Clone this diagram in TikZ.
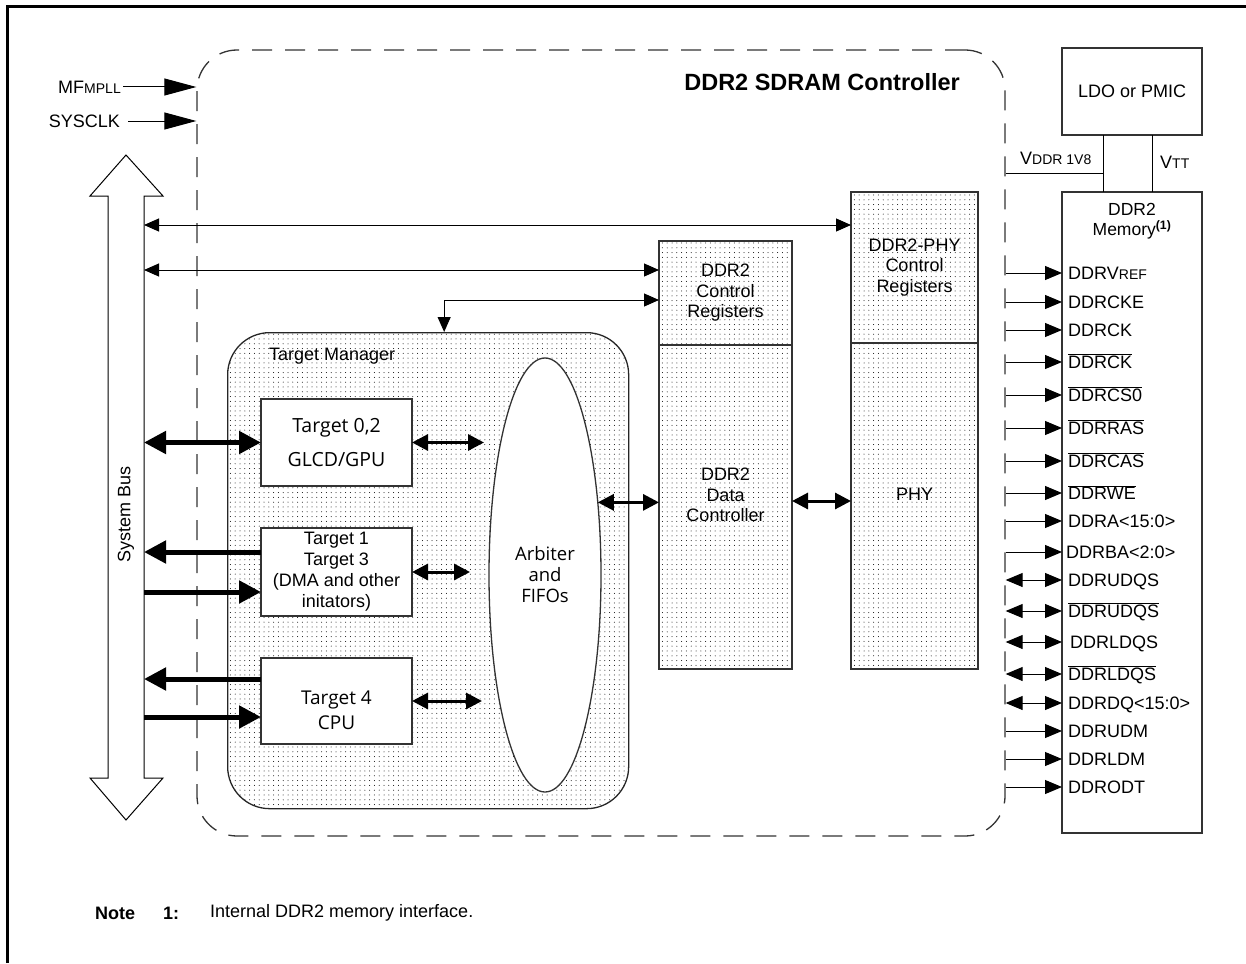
\documentclass[tikz,border=0pt]{standalone}
\usepackage{fontspec}
\setmainfont{Liberation Sans}
\newfontfamily\uifont{Open Sans}
\usepackage{tikz}
\usetikzlibrary{shapes.geometric, arrows.meta, positioning, patterns}

% sparse dot shading
\pgfdeclarepatternformonly{fine dots}{\pgfqpoint{-1pt}{-1pt}}{\pgfqpoint{1pt}{1pt}}{\pgfqpoint{4.8pt}{4.8pt}}%
  {\pgfpathcircle{\pgfqpoint{0pt}{0pt}}{0.5pt}\pgfusepath{fill}}

\newcommand{\sm}[1]{{\fontsize{14}{14}\selectfont #1}}
\newcommand{\ovl}[1]{$\overline{\hbox{#1}}$}

\begin{document}
\begin{tikzpicture}[
    x=1pt, y=-1pt,
    font=\fontsize{18}{20.5}\selectfont,
    txt/.style={inner sep=0pt},
    box/.style={rectangle, draw=black!80, line width=1.3pt, fill=white, inner sep=0pt, outer sep=0pt, align=center},
    dotbox/.style={rectangle, draw=black!80, line width=1.3pt, pattern=fine dots, inner sep=0pt, outer sep=0pt, align=center, minimum width=133pt},
    ctrl/.style={rectangle, rounded corners=40pt, draw=black!80, line width=1.3pt, dash pattern=on 20pt off 13pt},
    tmgr/.style={rectangle, rounded corners=42pt, draw=black!85, line width=1.3pt, pattern=fine dots},
    pin/.style={txt, anchor=west, text height=15pt, text depth=2pt},
    sig/.style={line width=1pt, -{Triangle[length=17pt,width=14pt]}},
    bisig/.style={line width=1pt, {Triangle[length=17pt,width=14pt]}-{Triangle[length=17pt,width=14pt]}},
    clk/.style={line width=1pt, -{Triangle[length=32pt,width=17pt]}},
    reg/.style={line width=1pt, {Triangle[length=15pt,width=13pt]}-{Triangle[length=15pt,width=13pt]}},
    fat/.style={line width=5pt, -{Triangle[length=22pt,width=22pt]}},
    fatboth/.style={line width=5pt, {Triangle[length=22pt,width=22pt]}-{Triangle[length=22pt,width=22pt]}},
    link/.style={line width=3pt, {Triangle[length=16pt,width=16pt]}-{Triangle[length=16pt,width=16pt]}},
    wire/.style={line width=1pt}
]
\useasboundingbox (0,0) rectangle (1246,963);
\draw[line width=3pt] (7,963) -- (7,7) -- (1246,7);

% Controller outline
\node[ctrl, minimum width=808pt, minimum height=786pt] (ctrl) at (601,443) {};
\node[txt, anchor=east, font=\fontsize{23.5}{26}\selectfont\bfseries] (title) at (960,82) {DDR2 SDRAM Controller};

% Clocks
\node[txt, anchor=east] (mf) at (121,87) {MF\sm{MPLL}};
\node[txt, anchor=east] (sysclk) at (120,121) {SYSCLK};
\draw[clk] ([xshift=2pt]mf.east) -- (ctrl.west |- mf.east);
\draw[clk] ([xshift=8pt]sysclk.east) -- (ctrl.west |- sysclk.east);

% System bus
\draw[line width=1pt] (126,155) -- (163,196) -- (144,196) -- (144,778) -- (163,778) -- (126,820) -- (90,778) -- (108,778) -- (108,196) -- (90,196) -- cycle;
\node[txt, rotate=90] (bus) at (126,514) {System Bus};
\coordinate (busr) at (144,490);

% Registers, data controller, PHY
\node[dotbox, anchor=north west, minimum height=104pt] (ctrlreg) at (659,241) {DDR2\\Control\\Registers};
\node[dotbox, below=0pt of ctrlreg, minimum height=324pt] (datactl) {DDR2\\Data\\Controller\\[4pt]};
\node[dotbox, anchor=north west, minimum width=127pt, minimum height=151pt] (phyreg) at (851,192) {DDR2-PHY\\Control\\Registers};
\node[dotbox, below=0pt of phyreg, minimum width=127pt, minimum height=326pt] (phy) {PHY\\[2pt]};

% Target manager
\node[tmgr, anchor=north west, minimum width=401pt, minimum height=476pt] (tmgr) at (227,332) {};
\node[txt, anchor=west] (tmlbl) at (269,356) {Target Manager};
\node[box, anchor=north west, minimum width=151pt, minimum height=87pt, font=\uifont\fontsize{19.5}{34}\selectfont] (t0) at (261,399) {Target 0,2\\GLCD/GPU};
\node[box, below=42pt of t0, minimum width=151pt, minimum height=88pt, font=\fontsize{18}{21}\selectfont] (t1) {Target 1\\Target 3\\(DMA and other\\initators)};
\node[box, below=42pt of t1, minimum width=151pt, minimum height=86pt, font=\uifont\fontsize{19}{25}\selectfont] (t4) {\rule{0pt}{32pt}Target 4\\CPU};
\node[box, ellipse, minimum width=112pt, minimum height=434pt, font=\uifont\fontsize{18.5}{21}\selectfont] (arb) at (545,575) {Arbiter\\and\\FIFOs};

% Bus connections
\coordinate (phytap) at ([yshift=-33pt]phyreg.north west);
\coordinate (regtap) at ([yshift=-29pt]ctrlreg.north west);
\coordinate (tmtap) at ([yshift=-59pt]ctrlreg.north west);
\draw[reg] (busr |- phytap) -- (phytap);
\draw[reg] (busr |- regtap) -- (regtap);
\draw[reg] (tmtap) -| ([xshift=16pt]tmgr.north);

\coordinate (t1out) at ([yshift=20pt]t1.west);
\coordinate (t1in) at ([yshift=-20pt]t1.west);
\coordinate (t4out) at ([yshift=22pt]t4.west);
\coordinate (t4in) at ([yshift=-16pt]t4.west);
\draw[fatboth] (busr |- t0.west) -- (t0.west);
\draw[fat] (t1out) -- (busr |- t1out);
\draw[fat] (busr |- t1in) -- (t1in);
\draw[fat] (t4out) -- (busr |- t4out);
\draw[fat] (busr |- t4in) -- (t4in);

% Targets to arbiter
\coordinate (a0) at ([xshift=72pt]t0.east);
\coordinate (a1) at ([xshift=58pt]t1.east);
\coordinate (a4) at ([xshift=70pt]t4.east);
\draw[link] (t0.east) -- (a0);
\draw[link] (t1.east) -- (a1);
\draw[link] (t4.east) -- (a4);
\coordinate (arbout) at (arb.54);
\draw[link] (arbout) -- (arbout -| datactl.west);
\coordinate (dphy) at ([yshift=6pt]datactl.east);
\draw[link] (dphy) -- (dphy -| phy.west);

% Power and memory
\node[box, anchor=north west, minimum width=140pt, minimum height=87pt] (ldo) at (1062,48) {LDO or PMIC};
\node[box, below=57pt of ldo, minimum width=140pt, minimum height=641pt] (mem) {};
\node[txt, anchor=north, align=center, font=\fontsize{17.5}{20}\selectfont] (memlbl) at ([yshift=-11pt]mem.north) {DDR2\\Memory\textsuperscript{\bfseries (1)}};
\coordinate (vdd) at (1103,173);
\coordinate (vtt) at (1152,173);
\draw[wire] (ldo.south -| vdd) -- (mem.north -| vdd);
\draw[wire] (ldo.south -| vtt) -- (mem.north -| vtt);
\draw[wire] (ctrl.east |- vdd) -- (vdd);
\node[txt, anchor=west] (vddlbl) at (1020,158) {V\sm{DDR 1V8}};
\node[txt, anchor=west] (vttlbl) at (1160,162) {V\sm{TT}};

% Memory pins
\node[pin] (p1) at (1068,273) {DDRV\sm{REF}};
\node[pin] (p2) at (1068,302) {DDRCKE};
\node[pin] (p3) at (1068,330) {DDRCK};
\node[pin] (p4) at (1068,362) {\ovl{DDRCK}};
\node[pin] (p5) at (1068,395) {\ovl{DDRCS0}};
\node[pin] (p6) at (1068,428) {\ovl{DDRRAS}};
\node[pin] (p7) at (1068,461) {\ovl{DDRCAS}};
\node[pin] (p8) at (1068,493) {\ovl{DDRWE}};
\node[pin] (p9) at (1068,521) {DDRA<15:0>};
\node[pin] (p10) at (1066,552) {DDRBA<2:0>};
\node[pin] (p11) at (1068,580) {DDRUDQS};
\node[pin] (p12) at (1068,611) {\ovl{DDRUDQS}};
\node[pin] (p13) at (1070,642) {DDRLDQS};
\node[pin] (p14) at (1068,674) {\ovl{DDRLDQS}};
\node[pin] (p15) at (1068,703) {DDRDQ<15:0>};
\node[pin] (p16) at (1068,731) {DDRUDM};
\node[pin] (p17) at (1068,759) {DDRLDM};
\node[pin] (p18) at (1068,787) {DDRODT};

\draw[sig] (ctrl.east |- p1.west) -- (mem.west |- p1.west);
\draw[sig] (ctrl.east |- p2.west) -- (mem.west |- p2.west);
\draw[sig] (ctrl.east |- p3.west) -- (mem.west |- p3.west);
\draw[sig] (ctrl.east |- p4.west) -- (mem.west |- p4.west);
\draw[sig] (ctrl.east |- p5.west) -- (mem.west |- p5.west);
\draw[sig] (ctrl.east |- p6.west) -- (mem.west |- p6.west);
\draw[sig] (ctrl.east |- p7.west) -- (mem.west |- p7.west);
\draw[sig] (ctrl.east |- p8.west) -- (mem.west |- p8.west);
\draw[sig] (ctrl.east |- p9.west) -- (mem.west |- p9.west);
\draw[sig] (ctrl.east |- p10.west) -- (mem.west |- p10.west);
\draw[bisig] (ctrl.east |- p11.west) -- (mem.west |- p11.west);
\draw[bisig] (ctrl.east |- p12.west) -- (mem.west |- p12.west);
\draw[bisig] (ctrl.east |- p13.west) -- (mem.west |- p13.west);
\draw[bisig] (ctrl.east |- p14.west) -- (mem.west |- p14.west);
\draw[bisig] (ctrl.east |- p15.west) -- (mem.west |- p15.west);
\draw[sig] (ctrl.east |- p16.west) -- (mem.west |- p16.west);
\draw[sig] (ctrl.east |- p17.west) -- (mem.west |- p17.west);
\draw[sig] (ctrl.east |- p18.west) -- (mem.west |- p18.west);

% Footnote
\node[txt, anchor=west, font=\fontsize{18}{20}\selectfont\bfseries] (note) at (95,913) {Note};
\node[txt, anchor=west, font=\fontsize{18}{20}\selectfont\bfseries] (notenum) at (163,913) {1:};
\node[txt, anchor=west] (notetxt) at (210,913) {Internal DDR2 memory interface.};

\end{tikzpicture}
\end{document}
